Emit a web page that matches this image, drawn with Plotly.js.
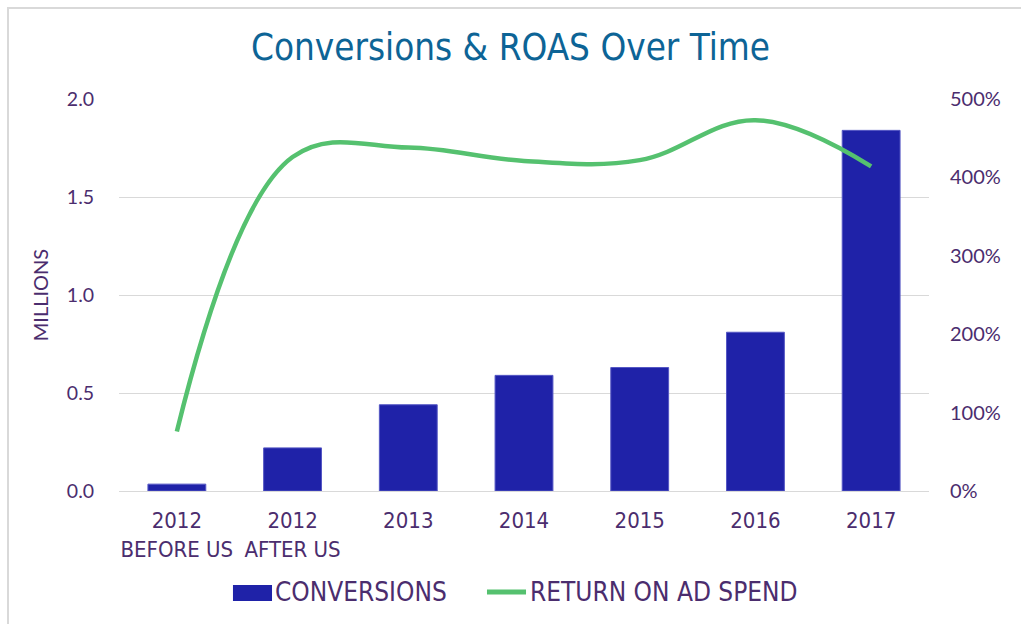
<!DOCTYPE html>
<html>
<head>
<meta charset="utf-8">
<script src="https://cdn.plot.ly/plotly-3.0.1.min.js"></script>
<style>
  html, body { margin: 0; padding: 0; background: #fff; overflow: hidden; }
  #frame { position: absolute; left: 7px; top: 7px; width: 1100px; height: 700px; border-left: 2px solid #d9d9d9; border-top: 2px solid #d9d9d9; }
  #chart { position: absolute; left: 0; top: 0; width: 1021px; height: 624px; }
</style>
</head>
<body>
<div id="frame"></div>
<div id="chart"></div>
<script>
const categories = ["2012<br>BEFORE US", "2012<br>AFTER US", "2013", "2014", "2015", "2016", "2017"];
const conversions = [0.035, 0.22, 0.44, 0.59, 0.63, 0.81, 1.84];
const roas = [0.76, 4.26, 4.38, 4.21, 4.22, 4.73, 4.14];
const seriesNames = ["CONVERSIONS", "RETURN ON AD SPEND"];

const purple = "#4b2d6e";
const barColor = "#1f22a8";
const lineColor = "#55c16f";
const narrow = "Liberation Sans Narrow, DejaVu Sans Condensed, sans-serif";

const data = [
  {
    type: "bar", name: seriesNames[0], x: categories, y: conversions,
    marker: { color: barColor, line: { color: "#5557c4", width: 1 } },
    width: 0.5, yaxis: "y"
  },
  {
    type: "scatter", mode: "lines", name: seriesNames[1], x: categories, y: roas,
    line: { color: lineColor, width: 4.5, shape: "spline", smoothing: 1.1 },
    yaxis: "y2"
  }
];

// custom legend (paper coordinates)
const shapes = [
  { type: "rect", xref: "paper", yref: "paper", x0: 0.1407, x1: 0.1889, y0: -0.2806, y1: -0.2398,
    fillcolor: barColor, line: { width: 0 } },
  { type: "line", xref: "paper", yref: "paper", x0: 0.4543, x1: 0.5025, y0: -0.2577, y1: -0.2577,
    line: { color: lineColor, width: 5 } }
];
const annotations = [
  { xref: "paper", yref: "paper", x: 0.1900, y: -0.2577, xanchor: "left", yanchor: "middle", showarrow: false,
    text: seriesNames[0], font: { family: narrow, size: 26, color: purple } },
  { xref: "paper", yref: "paper", x: 0.5050, y: -0.2577, xanchor: "left", yanchor: "middle", showarrow: false,
    text: seriesNames[1], font: { family: narrow, size: 26, color: purple } }
];

const layout = {
  width: 1021, height: 624,
  paper_bgcolor: "rgba(0,0,0,0)", plot_bgcolor: "rgba(0,0,0,0)",
  margin: { l: 119, r: 92, t: 99, b: 133 },
  title: { text: "Conversions & ROAS Over Time", x: 0.5, xanchor: "center", y: 0.925, yanchor: "middle",
           font: { family: narrow, size: 36.5, color: "#0d6496" } },
  showlegend: false,
  shapes: shapes,
  annotations: annotations,
  xaxis: {
    type: "category", showgrid: false, zeroline: false,
    showline: true, linecolor: "#d9d9d9", linewidth: 1,
    tickfont: { family: narrow, size: 22, color: purple },
    ticks: "outside", ticklen: 10, tickcolor: "rgba(0,0,0,0)"
  },
  yaxis: {
    range: [0, 2], dtick: 0.5, tickformat: ".1f",
    showgrid: true, gridcolor: "#d9d9d9", gridwidth: 1, zeroline: false,
    tickfont: { family: "Lato, sans-serif", size: 19.5, color: purple },
    ticks: "outside", ticklen: 20, tickcolor: "rgba(0,0,0,0)",
    title: { text: "MILLIONS", font: { family: "Lato, sans-serif", size: 20, color: purple }, standoff: 12 }
  },
  yaxis2: {
    overlaying: "y", side: "right", range: [0, 5], dtick: 1, tickformat: ".0%",
    showgrid: false, zeroline: false,
    tickfont: { family: "Lato, sans-serif", size: 20, color: purple },
    ticks: "outside", ticklen: 16, tickcolor: "rgba(0,0,0,0)"
  }
};

Plotly.newPlot("chart", data, layout, { displayModeBar: false, staticPlot: true });
</script>
</body>
</html>
